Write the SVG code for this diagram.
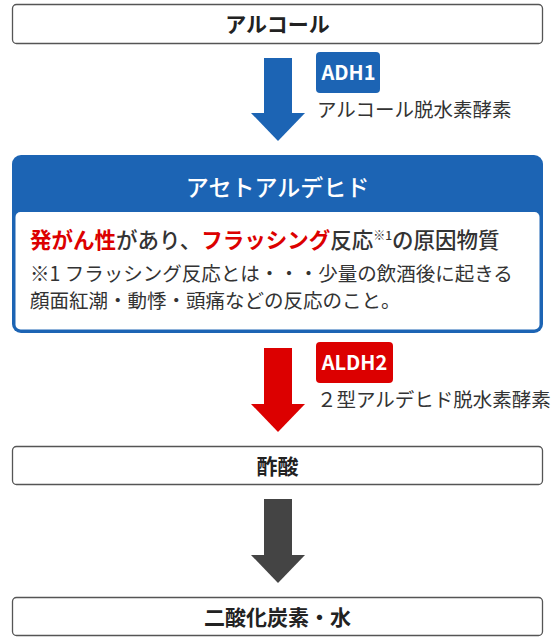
<svg xmlns="http://www.w3.org/2000/svg" width="554" height="641" viewBox="0 0 554 641">
<style>
text{font-family:"Noto Sans CJK JP","Noto Sans",sans-serif;}
.box{fill:#fff;stroke:#555;stroke-width:1.3;}
.lbl{font-size:21px;font-weight:700;fill:#222;text-anchor:middle;}
.enz{font-size:19.5px;fill:#333;}
.badge{font-size:20px;font-weight:700;fill:#fff;text-anchor:middle;}
.red{fill:#dc0000;font-weight:700;}
.dk{fill:#333;font-weight:500;}
</style>
<rect width="554" height="641" fill="#fff"/>
<g id="connectors">
  <g id="arrow-adh1">
    <rect x="264" y="58" width="28" height="55" fill="#1c64b4"/>
    <polygon points="251,113 305,113 278,141" fill="#1c64b4"/>
  </g>
  <g id="arrow-aldh2">
    <rect x="264" y="348" width="28" height="56" fill="#dc0000"/>
    <polygon points="251,404 305,404 278,432" fill="#dc0000"/>
  </g>
  <g id="arrow-gray">
    <rect x="264" y="499" width="28" height="56" fill="#444"/>
    <polygon points="251,555 305,555 278,583" fill="#444"/>
  </g>
</g>
<g id="alcohol">
  <rect class="box" x="12.5" y="4.5" width="530" height="39" rx="4"/>
  <text class="lbl" x="277.5" y="32">アルコール</text>
</g>
<g id="adh1">
  <rect x="316" y="52" width="64" height="41" rx="4" fill="#1c64b4"/>
  <text class="badge" x="348.5" y="80">ADH1</text>
  <text class="enz" x="317" y="117">アルコール脱水素酵素</text>
</g>
<g id="acetaldehyde">
  <rect x="12" y="155" width="531" height="178" rx="9" fill="#1c64b4"/>
  <rect x="15.5" y="212" width="524" height="117.5" rx="5" fill="#fff"/>
  <text x="277.5" y="196" font-size="23" font-weight="500" fill="#fff" text-anchor="middle">アセトアルデヒド</text>
  <text x="30" y="248" font-size="21.5"><tspan class="red">発がん性</tspan><tspan class="dk">があり、</tspan><tspan class="red">フラッシング</tspan><tspan class="dk">反応</tspan><tspan class="dk" font-size="12" dy="-8">※1</tspan><tspan class="dk" dy="8">の原因物質</tspan></text>
  <text x="30" y="281" font-size="19.5" fill="#333">※1 フラッシング反応とは・・・少量の飲酒後に起きる</text>
  <text x="30" y="308" font-size="19.5" fill="#333">顔面紅潮・動悸・頭痛などの反応のこと。</text>
</g>
<g id="aldh2">
  <rect x="316" y="342" width="77" height="41" rx="4" fill="#dc0000"/>
  <text class="badge" x="354.5" y="370">ALDH2</text>
  <text class="enz" x="317" y="407">２型アルデヒド脱水素酵素</text>
</g>
<g id="acetic-acid">
  <rect class="box" x="12.5" y="446.5" width="530" height="38" rx="4"/>
  <text class="lbl" x="277.5" y="474">酢酸</text>
</g>
<g id="co2-water">
  <rect class="box" x="12.5" y="597.5" width="530" height="38" rx="4"/>
  <text class="lbl" x="277.5" y="625">二酸化炭素・水</text>
</g>
</svg>
